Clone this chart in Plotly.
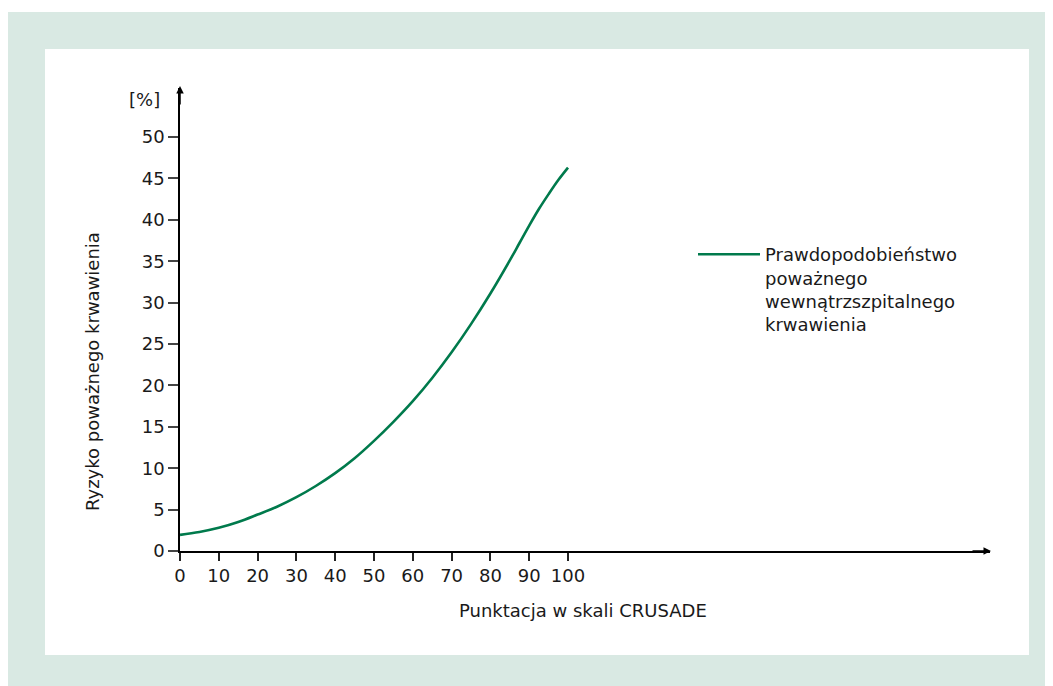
import plotly.graph_objects as go

# Data
crusade_score = [0, 5, 10, 15, 20, 25, 30, 35, 40, 45, 50, 55, 60, 65, 70, 75, 80,
                 85, 87.5, 90, 92.5, 95, 97.5, 100]
bleeding_risk = [1.95, 2.3, 2.8, 3.5, 4.4, 5.35, 6.5, 7.85, 9.4, 11.2, 13.3, 15.6, 18.1,
                 20.9, 24.0, 27.4, 31.1, 35.1, 37.2, 39.3, 41.3, 43.1, 44.8, 46.3]
y_ticks = [0, 5, 10, 15, 20, 25, 30, 35, 40, 45, 50]
x_ticks = [0, 10, 20, 30, 40, 50, 60, 70, 80, 90, 100]
series_name = "Prawdopodobieństwo<br>poważnego<br>wewnątrzszpitalnego<br>krwawienia"

OFF = 8  # page body margin
W, H = 1053 - OFF, 686 - OFF
L = 180 - OFF
T = 88 - OFF
R = W - (990 - OFF)
B = H - (551 - OFF)
pw, ph = W - L - R, H - T - B
x_max = 208.76
y_max = 55.92

def px(xpix):
    return (xpix - OFF - L) / pw

def py(ypix):
    return (H - B - (ypix - OFF)) / ph

FONT = "DejaVu Sans"
FS = 18
GREEN = "#007a4c"
MINT = "#d9e9e3"
TXT = "#1a1a1a"

fig = go.Figure()
fig.add_trace(go.Scatter(
    x=crusade_score, y=bleeding_risk, mode="lines",
    line=dict(color=GREEN, width=2.6, shape="spline", smoothing=1.0),
    name=series_name, showlegend=True,
))

fig.update_layout(
    width=W, height=H,
    margin=dict(l=L, r=R, t=T, b=B),
    paper_bgcolor="white", plot_bgcolor="rgba(0,0,0,0)",
    font=dict(family=FONT, size=FS, color=TXT),
    showlegend=True,
    legend=dict(x=px(693), y=py(236), xanchor="left", yanchor="top",
                bgcolor="rgba(0,0,0,0)", valign="top",
                font=dict(family=FONT, size=FS, color=TXT),
                itemwidth=62, tracegroupgap=0),
    xaxis=dict(range=[0, x_max], tickvals=x_ticks, showgrid=False, zeroline=False,
               showline=True, linecolor="black", linewidth=1.5,
               ticks="outside", ticklen=8, tickwidth=1.5, tickcolor="#222",
               tickfont=dict(size=FS), fixedrange=True),
    yaxis=dict(range=[0, y_max], tickvals=y_ticks, showgrid=False, zeroline=False,
               showline=True, linecolor="black", linewidth=1.5,
               ticks="outside", ticklen=10, tickwidth=1.5, tickcolor="#444",
               tickfont=dict(size=FS), fixedrange=True),
    shapes=[
        dict(type="rect", xref="paper", yref="paper", layer="below",
             x0=px(7), x1=px(1060), y0=py(700), y1=py(12),
             fillcolor=MINT, line=dict(width=0)),
        dict(type="rect", xref="paper", yref="paper", layer="below",
             x0=px(45), x1=px(1029), y0=py(655), y1=py(49),
             fillcolor="white", line=dict(width=0)),
    ],
    annotations=[
        dict(xref="paper", yref="paper", x=px(991), y=py(551), ax=-20, ay=0,
             showarrow=True, arrowhead=2, arrowsize=1, arrowwidth=1.5,
             arrowcolor="black", text=""),
        dict(xref="paper", yref="paper", x=px(180), y=py(86), ax=0, ay=20,
             showarrow=True, arrowhead=2, arrowsize=1, arrowwidth=1.5,
             arrowcolor="black", text=""),
        dict(xref="paper", yref="paper", x=px(162), y=py(99), text="[%]",
             showarrow=False, xanchor="right", yanchor="middle",
             font=dict(size=FS)),
        dict(xref="paper", yref="paper", x=px(583), y=py(610),
             text="Punktacja w skali CRUSADE", showarrow=False,
             xanchor="center", yanchor="middle", font=dict(size=FS)),
        dict(xref="paper", yref="paper", x=px(92), y=py(372),
             text="Ryzyko poważnego krwawienia", showarrow=False,
             textangle=-90, xanchor="center", yanchor="middle",
             font=dict(size=FS)),
    ],
)

fig.write_html("out.html")
